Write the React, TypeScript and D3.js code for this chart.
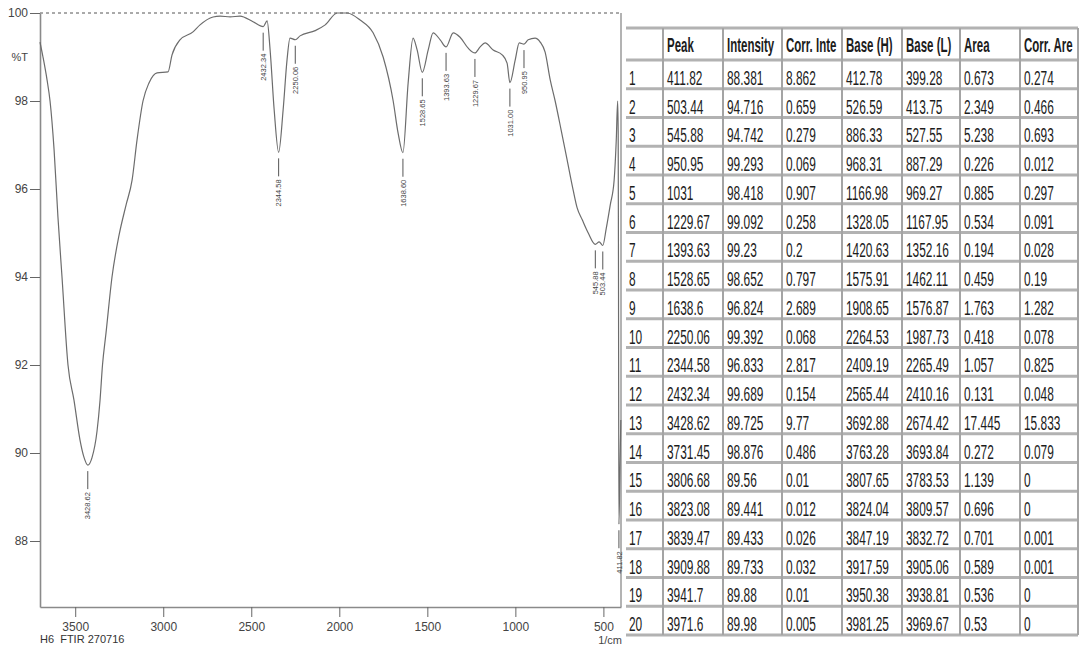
import React, { useEffect, useRef } from 'react';
import * as d3 from 'd3';

// spectrum trace (1/cm, %T)
const wavenumber = [3700, 3683, 3660, 3643, 3620, 3598, 3575, 3541, 3507, 3473, 3450, 3428.62, 3405, 3376, 3359, 3345, 3325, 3291, 3251, 3211, 3177, 3149, 3115, 3081, 3035, 2973, 2950, 2905, 2831, 2791, 2717, 2677, 2620, 2564, 2490, 2432.34, 2410, 2393, 2370, 2344.58, 2319, 2297, 2280, 2250.06, 2223, 2137, 2080, 2012, 1956, 1882, 1808, 1751, 1694, 1666, 1638.6, 1609, 1581, 1558, 1528.65, 1495, 1467, 1427, 1393.63, 1353, 1314, 1268, 1229.67, 1200, 1172, 1126, 1075, 1047, 1031, 1001, 978, 950.95, 927, 888, 859, 831, 802, 774, 740, 706, 672, 649, 620, 586, 545.88, 524, 503.44, 484, 461, 439, 427, 419, 416, 414, 411.82, 407, 401];
const transmittance = [99.34, 99.0, 98.48, 98.0, 96.89, 95.36, 94.0, 92.0, 91.2, 90.3, 89.9, 89.725, 89.89, 90.5, 91.2, 92.0, 92.73, 94.0, 94.95, 95.64, 96.2, 97.11, 98.0, 98.41, 98.64, 98.66, 99.05, 99.39, 99.57, 99.73, 99.91, 99.93, 99.91, 99.93, 99.8, 99.689, 99.82, 99.16, 97.8, 96.833, 97.8, 98.93, 99.43, 99.392, 99.48, 99.6, 99.73, 100.0, 100.0, 99.84, 99.55, 99.0, 98.0, 97.27, 96.824, 98.41, 99.43, 99.16, 98.652, 99.16, 99.55, 99.39, 99.23, 99.55, 99.45, 99.2, 99.092, 99.23, 99.32, 99.16, 99.05, 98.86, 98.418, 98.93, 99.32, 99.293, 99.39, 99.43, 99.34, 99.11, 98.48, 98.0, 97.34, 96.66, 95.98, 95.57, 95.3, 95.0, 94.742, 94.8, 94.716, 95.1, 95.64, 96.2, 97.1, 98.0, 97.3, 93.5, 88.381, 89.4, 90.75];

// peak table
const headers = ['', 'Peak', 'Intensity', 'Corr. Inte', 'Base (H)', 'Base (L)', 'Area', 'Corr. Are'];
const peak = [411.82, 503.44, 545.88, 950.95, 1031, 1229.67, 1393.63, 1528.65, 1638.6, 2250.06, 2344.58, 2432.34, 3428.62, 3731.45, 3806.68, 3823.08, 3839.47, 3909.88, 3941.7, 3971.6];
const intensity = [88.381, 94.716, 94.742, 99.293, 98.418, 99.092, 99.23, 98.652, 96.824, 99.392, 96.833, 99.689, 89.725, 98.876, 89.56, 89.441, 89.433, 89.733, 89.88, 89.98];
const corrInt = [8.862, 0.659, 0.279, 0.069, 0.907, 0.258, 0.2, 0.797, 2.689, 0.068, 2.817, 0.154, 9.77, 0.486, 0.01, 0.012, 0.026, 0.032, 0.01, 0.005];
const baseH = [412.78, 526.59, 886.33, 968.31, 1166.98, 1328.05, 1420.63, 1575.91, 1908.65, 2264.53, 2409.19, 2565.44, 3692.88, 3763.28, 3807.65, 3824.04, 3847.19, 3917.59, 3950.38, 3981.25];
const baseL = [399.28, 413.75, 527.55, 887.29, 969.27, 1167.95, 1352.16, 1462.11, 1576.87, 1987.73, 2265.49, 2410.16, 2674.42, 3693.84, 3783.53, 3809.57, 3832.72, 3905.06, 3938.81, 3969.67];
const area = [0.673, 2.349, 5.238, 0.226, 0.885, 0.534, 0.194, 0.459, 1.763, 0.418, 1.057, 0.131, 17.445, 0.272, 1.139, 0.696, 0.701, 0.589, 0.536, 0.53];
const corrArea = [0.274, 0.466, 0.693, 0.012, 0.297, 0.091, 0.028, 0.19, 1.282, 0.078, 0.825, 0.048, 15.833, 0.079, 0, 0, 0.001, 0.001, 0, 0];

const xTicks = [3500, 3000, 2500, 2000, 1500, 1000, 500];
const yTicks = [88, 90, 92, 94, 96, 98, 100];

const W = 1080;
const H = 645;
const FONT = 'Liberation Sans, Arial, Helvetica, sans-serif';

export default function App() {
  const ref = useRef<SVGSVGElement>(null);

  useEffect(() => {
    const svg = d3.select(ref.current);
    svg.selectAll('*').remove();

    const x = d3.scaleLinear().domain([3700, 400]).range([40, 621]);
    const y = d3.scaleLinear().domain([86.5, 100]).range([607, 13]);

    const chart = svg.append('g');

    // right border and top dashed 100% line
    chart.append('line')
      .attr('x1', x(400)).attr('x2', x(400)).attr('y1', y(100)).attr('y2', y(86.5))
      .attr('stroke', '#9a9a9a').attr('stroke-width', 1.5);
    chart.append('line')
      .attr('x1', x(3700)).attr('x2', x(400)).attr('y1', y(100)).attr('y2', y(100))
      .attr('stroke', '#555').attr('stroke-width', 1).attr('stroke-dasharray', '3,3');

    const yAxis = chart.append('g')
      .attr('transform', `translate(${x(3700)},0)`)
      .call(d3.axisLeft(y).tickValues(yTicks).tickFormat(d3.format('d')).tickSize(10).tickSizeOuter(0).tickPadding(2));
    const xAxis = chart.append('g')
      .attr('transform', `translate(0,${y(86.5)})`)
      .call(d3.axisBottom(x).tickValues(xTicks).tickFormat(d3.format('d')).tickSize(10).tickSizeOuter(0).tickPadding(5));

    [yAxis, xAxis].forEach(a => {
      a.select('.domain').attr('stroke', '#8a8a8a').attr('stroke-width', 1.6);
      a.selectAll('.tick line').attr('stroke', '#666').attr('stroke-width', 1);
      a.selectAll('.tick text')
        .attr('fill', '#444')
        .attr('font-family', FONT)
        .attr('font-size', 12);
    });

    chart.append('text')
      .attr('x', 28).attr('y', 61).attr('text-anchor', 'end')
      .attr('font-family', FONT).attr('font-size', 11).attr('fill', '#444')
      .text('%T');
    chart.append('text')
      .attr('x', 40).attr('y', 643)
      .attr('font-family', FONT).attr('font-size', 11).attr('fill', '#333')
      .style('white-space', 'pre')
      .text('H6  FTIR 270716');
    chart.append('text')
      .attr('x', 622).attr('y', 644).attr('text-anchor', 'end')
      .attr('font-family', FONT).attr('font-size', 11).attr('fill', '#444')
      .text('1/cm');

    // spectrum
    const pts = wavenumber.map((w, i) => [w, transmittance[i]] as [number, number]);
    const line = d3.line<[number, number]>()
      .x(d => x(d[0]))
      .y(d => y(d[1]))
      .curve(d3.curveMonotoneX);
    chart.append('path')
      .datum(pts)
      .attr('d', line)
      .attr('fill', 'none')
      .attr('stroke', '#6c6c6c')
      .attr('stroke-width', 1.2);

    // peak labels
    const labelled = peak
      .map((p, i) => ({ p, t: intensity[i] }))
      .filter(d => d.p >= 400 && d.p <= 3700);
    const lab = chart.append('g');
    lab.selectAll('line')
      .data(labelled)
      .join('line')
      .attr('x1', d => x(d.p)).attr('x2', d => x(d.p))
      .attr('y1', d => y(d.t) + 6).attr('y2', d => y(d.t) + 24)
      .attr('stroke', '#555').attr('stroke-width', 1);
    lab.selectAll('text')
      .data(labelled)
      .join('text')
      .attr('transform', d => `translate(${x(d.p)},${y(d.t) + 27}) rotate(-90)`)
      .attr('text-anchor', 'end')
      .attr('dy', '0.35em')
      .attr('font-family', FONT)
      .attr('font-size', 7.5)
      .attr('fill', '#444')
      .text(d => d.p.toFixed(2));

    // table
    const colX = [626, 663, 723, 782, 842, 902, 960, 1020, 1078];
    const headTop = 28;
    const headBottom = 60;
    const rowH = (635 - headBottom) / peak.length;
    const rowY = d3.scaleLinear().domain([0, peak.length]).range([headBottom, 635]);
    const columns = [peak, intensity, corrInt, baseH, baseL, area, corrArea];

    const table = svg.append('g');
    const hLines = [headTop, ...d3.range(peak.length + 1).map(i => rowY(i))];
    table.selectAll('line.h')
      .data(hLines)
      .join('line')
      .attr('class', 'h')
      .attr('x1', colX[0]).attr('x2', colX[colX.length - 1])
      .attr('y1', d => d).attr('y2', d => d)
      .attr('stroke', '#b2b2b2').attr('stroke-width', 3);
    table.selectAll('line.v')
      .data(colX.slice(1))
      .join('line')
      .attr('class', 'v')
      .attr('x1', d => d).attr('x2', d => d)
      .attr('y1', headTop).attr('y2', 635)
      .attr('stroke', '#a4a4a4').attr('stroke-width', 2);

    const cellText = (tx: number, ty: number, s: string, bold: boolean) => {
      table.append('g')
        .attr('transform', `translate(${tx},${ty}) scale(${bold ? 0.56 : 0.58},1)`)
        .append('text')
        .attr('font-family', FONT)
        .attr('font-size', 20.5)
        .attr('font-weight', bold ? 'bold' : 'normal')
        .attr('fill', '#1c1c1c')
        .text(s);
    };

    headers.forEach((h, c) => {
      if (h) cellText(colX[c] + 4, headTop + 24, h, true);
    });
    peak.forEach((_, r) => {
      const base = rowY(r) + rowH - 4;
      cellText(colX[0] + 3, base, String(r + 1), false);
      columns.forEach((col, c) => {
        cellText(colX[c + 1] + 4, base, String(col[r]), false);
      });
    });
  }, []);

  return (
    <svg
      ref={ref}
      width={W}
      height={H}
      viewBox={`0 0 ${W} ${H}`}
      style={{ position: 'absolute', left: 0, top: 0, background: '#fff', display: 'block' }}
    />
  );
}
